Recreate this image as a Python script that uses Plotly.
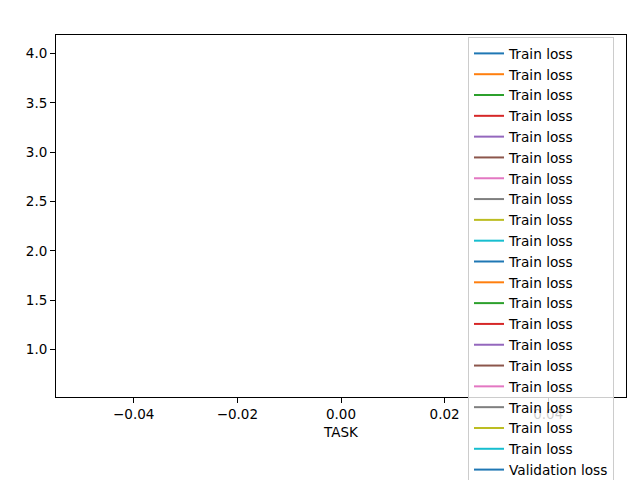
import plotly.graph_objects as go

# one epoch only -> every series is a single point at TASK = 0
task = [0]
train_loss = [4.02, 3.41, 2.95, 2.61, 2.33, 2.10, 1.91, 1.75, 1.62, 1.50,
              1.40, 1.31, 1.23, 1.15, 1.08, 1.01, 0.94, 0.86, 0.78, 0.69]
val_loss = [0.95]

colors = ['#1f77b4', '#ff7f0e', '#2ca02c', '#d62728', '#9467bd',
          '#8c564b', '#e377c2', '#7f7f7f', '#bcbd22', '#17becf']

x_ticks = [-0.04, -0.02, 0.0, 0.02, 0.04]
y_ticks = [1.0, 1.5, 2.0, 2.5, 3.0, 3.5, 4.0]

fig = go.Figure()
for i, v in enumerate(train_loss):
    fig.add_trace(go.Scatter(x=task, y=[v], mode='lines', name='Train loss',
                             line=dict(color=colors[i % 10], width=2)))
fig.add_trace(go.Scatter(x=task, y=val_loss, mode='lines', name='Validation loss',
                         line=dict(color=colors[len(train_loss) % 10], width=2)))

axis_style = dict(showline=True, linecolor='black', linewidth=1, mirror=True,
                  ticks='outside', ticklen=5, tickcolor='black', showgrid=False,
                  zeroline=False, tickfont=dict(size=13.5, color='black'))

# page body has an 8px margin, so the margins are pulled in by 8px
fig.update_layout(
    width=640, height=480,
    margin=dict(l=48, r=22, t=27, b=91, autoexpand=False),
    plot_bgcolor='white', paper_bgcolor='white',
    font=dict(family='DejaVu Sans', size=13.5, color='black'),
    xaxis=dict(range=[-0.055, 0.055], tickvals=x_ticks, tickformat='.2f',
               title=dict(text='TASK', font=dict(size=13.5), standoff=6), **axis_style),
    yaxis=dict(range=[0.519, 4.187], tickvals=y_ticks, tickformat='.1f', **axis_style),
    legend=dict(x=0.7228, y=0.9945, xanchor='left', yanchor='top',
                bgcolor='rgba(255,255,255,0.8)', bordercolor='#cccccc', borderwidth=1,
                font=dict(size=13.7), maxheight=800, tracegroupgap=0),
    showlegend=True,
)

fig.write_html("out.html")
